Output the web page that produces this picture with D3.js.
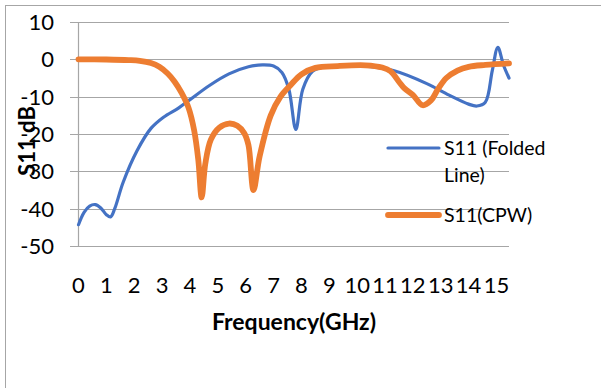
<!DOCTYPE html>
<html>
<head>
<meta charset="utf-8">
<script src="https://cdn.jsdelivr.net/npm/d3@7"></script>
<style>
  body { margin: 0; background: #fff; }
  text { font-family: Lato, "Open Sans", sans-serif; fill: #000; }
</style>
</head>
<body>
<svg id="chart"></svg>
<script>
// S11 curves
const foldedX = [0, 0.2, 0.4, 0.6, 0.8, 1.0, 1.15, 1.3, 1.6, 2.1, 2.6, 3.05, 3.6, 4.0, 4.7, 5.4, 6.1, 6.6, 7.0, 7.3, 7.55, 7.8, 8.05, 8.4, 8.8, 9.5, 10.3, 11.3, 12.5, 13.3, 14.0, 14.3, 14.6, 14.85, 15.05, 15.25, 15.45];
const foldedY = [-44.3, -41, -39.3, -38.9, -39.8, -41.6, -42.2, -40, -33, -24.5, -18.5, -15.5, -13, -10.8, -7, -3.9, -2, -1.5, -1.8, -3.5, -8, -18.8, -8, -3.2, -2.1, -1.8, -1.8, -3, -6.5, -9.6, -12, -12.5, -11.5, -3, 3.2, -1.5, -5];

const cpwX = [0, 1, 1.8, 2.2, 2.6, 2.9, 3.2, 3.45, 3.7, 3.95, 4.15, 4.3, 4.42, 4.55, 4.75, 5.05, 5.4, 5.7, 5.95, 6.1, 6.28, 6.5, 6.9, 7.25, 7.6, 8.0, 8.5, 9.3, 10.3, 10.9, 11.2, 11.5, 11.7, 12.0, 12.35, 12.65, 12.9, 13.2, 13.6, 14.0, 14.6, 15.45];
const cpwY = [0, -0.05, -0.2, -0.4, -1, -2, -3.8, -6, -9, -13, -19, -27, -37, -28, -21.5, -18.3, -17.2, -17.8, -19.8, -23, -35, -26, -15, -10, -7, -4, -2.3, -1.8, -1.6, -2.2, -3.2, -6, -7.8, -9.5, -12.3, -11, -8, -5, -3, -2, -1.5, -1.1];

const xTicks = d3.range(0, 16);
const yTicks = [10, 0, -10, -20, -30, -40, -50];

const width = 601, height = 388;

const svg = d3.select('#chart')
    .attr('width', width)
    .attr('height', height);

// chart area frame (left and top visible)
svg.append('rect')
    .attr('x', 5.5).attr('y', 5.5)
    .attr('width', width).attr('height', height)
    .attr('fill', 'none')
    .attr('stroke', '#a6a6a6');

const x = d3.scaleLinear().domain([0, 15.45]).range([78.5, 509]);
const y = d3.scaleLinear().domain([-50, 10]).range([246, 22]);

// gridlines
svg.append('g')
    .selectAll('line')
    .data(yTicks)
    .enter()
    .append('line')
    .attr('x1', 70).attr('x2', 509)
    .attr('y1', d => Math.round(y(d)) + 0.5)
    .attr('y2', d => Math.round(y(d)) + 0.5)
    .attr('stroke', '#a6a6a6')
    .attr('stroke-width', 1.2);

svg.append('line')
    .attr('x1', 78.5).attr('x2', 78.5)
    .attr('y1', y(10)).attr('y2', y(-50))
    .attr('stroke', '#a6a6a6')
    .attr('stroke-width', 1.2);

// y tick labels
svg.append('g')
    .selectAll('text')
    .data(yTicks)
    .enter()
    .append('text')
    .attr('x', 54)
    .attr('y', d => y(d))
    .attr('dy', '0.36em')
    .attr('text-anchor', 'end')
    .style('font-size', '22px')
    .text(d => d);

// x tick labels
svg.append('g')
    .selectAll('text')
    .data(xTicks)
    .enter()
    .append('text')
    .attr('x', d => x(d))
    .attr('y', 293)
    .attr('text-anchor', 'middle')
    .style('font-size', '22px')
    .text(d => d);

// axis titles
svg.append('text')
    .attr('x', 294).attr('y', 330)
    .attr('text-anchor', 'middle')
    .style('font-size', '23px')
    .style('font-weight', 'bold')
    .text('Frequency(GHz)');

svg.append('text')
    .attr('transform', 'translate(35,141) rotate(-90)')
    .attr('text-anchor', 'middle')
    .style('font-size', '22px')
    .style('font-weight', 'bold')
    .text('S11 dB');

// curves
const line = d3.line()
    .x(d => x(d[0]))
    .y(d => y(d[1]))
    .curve(d3.curveCatmullRom.alpha(0.5));

svg.append('path')
    .datum(d3.zip(foldedX, foldedY))
    .attr('d', line)
    .attr('fill', 'none')
    .attr('stroke', '#4472c4')
    .attr('stroke-width', 3.2)
    .attr('stroke-linecap', 'round');

svg.append('path')
    .datum(d3.zip(cpwX, cpwY))
    .attr('d', line)
    .attr('fill', 'none')
    .attr('stroke', '#ed7d31')
    .attr('stroke-width', 5.8)
    .attr('stroke-linecap', 'round');

// legend
const legend = svg.append('g');
legend.append('line')
    .attr('x1', 388).attr('x2', 439).attr('y1', 148).attr('y2', 148)
    .attr('stroke', '#4472c4').attr('stroke-width', 3.2).attr('stroke-linecap', 'round');
legend.append('text').attr('x', 444).attr('y', 155).style('font-size', '19.5px').text('S11 (Folded');
legend.append('text').attr('x', 444).attr('y', 182).style('font-size', '19.5px').text('Line)');
legend.append('line')
    .attr('x1', 388).attr('x2', 439).attr('y1', 215).attr('y2', 215)
    .attr('stroke', '#ed7d31').attr('stroke-width', 5.8).attr('stroke-linecap', 'round');
legend.append('text').attr('x', 444).attr('y', 222).style('font-size', '19.5px').text('S11(CPW)');
</script>
</body>
</html>
